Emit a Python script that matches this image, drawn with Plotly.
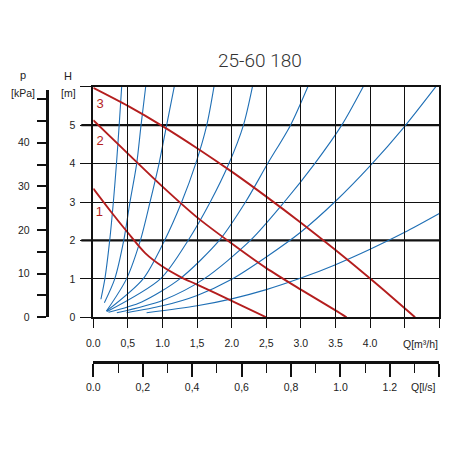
import plotly.graph_objs as go

# === Data ===
# system curves (blue), one list per curve
SYSTEM_Q = [
    [0.11, 0.167, 0.237, 0.29, 0.335, 0.374, 0.41],
    [0.16, 0.31, 0.44, 0.53, 0.627, 0.69, 0.757],
    [0.19, 0.48, 0.68, 0.82, 0.95, 1.06, 1.17],
    [0.19, 0.72, 1.03, 1.277, 1.48, 1.64, 1.744],
    [0.20, 0.97, 1.37, 1.69, 1.96, 2.17, 2.30],
    [0.22, 0.7, 1.25, 1.82, 2.2, 2.52, 2.85, 3.10],
    [0.34, 1.0, 1.6, 2.27, 2.76, 3.2, 3.59, 3.90],
    [0.48, 1.0, 1.5, 2.0, 2.5, 3.0, 3.5, 4.0, 4.5, 4.95],
    [0.77, 1.5, 2.0, 2.5, 3.0, 3.5, 4.0, 4.5, 5.0],
]
SYSTEM_H = [
    [0.47, 1, 2, 3, 4, 5, 6],
    [0.38, 1, 2, 3, 4, 5, 6],
    [0.16, 1, 2, 3, 4, 5, 6],
    [0.16, 1, 2, 3, 4, 5, 6],
    [0.15, 1, 2, 3, 4, 5, 6],
    [0.13, 0.40, 1, 2, 3, 4, 5, 6],
    [0.12, 0.44, 1, 2, 3, 4, 5, 6],
    [0.12, 0.30, 0.57, 0.99, 1.57, 2.22, 3.02, 3.94, 4.97, 6.0],
    [0.12, 0.30, 0.48, 0.72, 1.02, 1.37, 1.77, 2.21, 2.7],
]

# pump curves (red), speeds 1..3
PUMP_NAMES = ["1", "2", "3"]
PUMP_Q = [
    [0, 0.25, 0.5, 0.75, 1.0, 1.25, 1.5, 2.0, 2.5],
    [0, 0.5, 1.0, 1.5, 2.0, 2.5, 3.0, 3.5, 3.66],
    [0, 0.5, 1.0, 1.5, 2.0, 2.5, 3.0, 3.5, 4.0, 4.3, 4.65],
]
PUMP_H = [
    [3.35, 2.76, 2.20, 1.67, 1.32, 1.06, 0.85, 0.43, 0],
    [5.13, 4.26, 3.40, 2.60, 1.92, 1.28, 0.72, 0.18, 0],
    [5.97, 5.5, 4.975, 4.40, 3.79, 3.14, 2.46, 1.75, 1.01, 0.55, 0],
]
PUMP_LABEL_Q = [0.087, 0.097, 0.097]
PUMP_LABEL_H = [2.73, 4.57, 5.52]

# axes
Q_M3H_TICKS = [0, 0.5, 1.0, 1.5, 2.0, 2.5, 3.0, 3.5, 4.0, 4.5, 5.0]
Q_M3H_TEXT = ["0.0", "0,5", "1.0", "1,5", "2.0", "2,5", "3.0", "3.5", "4.0", "", ""]
H_TICKS = [0, 1, 2, 3, 4, 5, 6]
H_TEXT = ["0", "1", "2", "3", "4", "5", ""]
H_BOLD = [2, 5]
P_TICKS = [0, 5, 10, 15, 20, 25, 30, 35, 40, 45, 50]
P_TEXT = ["0", "", "10", "", "20", "", "30", "", "40", "", ""]
Q_LS_TICKS = [0, 0.2, 0.4, 0.6, 0.8, 1.0, 1.2, 1.4]
Q_LS_TEXT = ["0.0", "0,2", "0,4", "0,6", "0,8", "1.0", "1.2", ""]

TITLE = "25-60 180"

# === Style ===
# the page body has an 8px margin, so the figure is 434px and every
# position below is given in window pixels and shifted by that margin
PAGE_OFF = 8
W = H = 434
BLUE = "#1f6fb5"
RED = "#b41e1e"
INK = "#111111"
LABEL_FONT = dict(family="Liberation Sans, Arial", size=10.5, color="#222222")


def px(x):
    return (x - PAGE_OFF) / W


def py(y):
    return 1 - (y - PAGE_OFF) / H


fig = go.Figure()

for qs, hs in zip(SYSTEM_Q, SYSTEM_H):
    fig.add_trace(go.Scatter(
        x=qs, y=hs, mode="lines", line=dict(color=BLUE, width=1.1, shape="spline", smoothing=0.8),
        showlegend=False, hoverinfo="skip"
    ))

for qs, hs in zip(PUMP_Q, PUMP_H):
    fig.add_trace(go.Scatter(
        x=qs, y=hs, mode="lines", line=dict(color=RED, width=1.9, shape="spline", smoothing=0.8),
        showlegend=False, hoverinfo="skip"
    ))

fig.add_trace(go.Scatter(
    x=PUMP_LABEL_Q, y=PUMP_LABEL_H, mode="text", text=PUMP_NAMES,
    textfont=dict(family="Liberation Sans, Arial", size=13, color=RED),
    showlegend=False, hoverinfo="skip"
))

# empty traces so the kPa and l/s axes get drawn
fig.add_trace(go.Scatter(x=[None], y=[None], yaxis="y2", showlegend=False, hoverinfo="skip"))
fig.add_trace(go.Scatter(x=[None], y=[None], xaxis="x2", showlegend=False, hoverinfo="skip"))

x_dom = [px(93.3), px(439.3)]
y_dom = [py(317.3), py(86.7)]

fig.update_layout(
    width=W, height=H,
    margin=dict(l=0, r=0, t=0, b=0),
    paper_bgcolor="white",
    plot_bgcolor="rgba(0,0,0,0)",
    xaxis=dict(
        domain=x_dom, range=[0, 5], tickmode="array", tickvals=Q_M3H_TICKS, ticktext=Q_M3H_TEXT,
        showgrid=True, gridcolor=INK, gridwidth=1.3, zeroline=False,
        showline=True, linecolor=INK, linewidth=1.6, mirror=True,
        ticks="outside", ticklen=9, tickwidth=1.3, tickcolor=INK,
        tickfont=LABEL_FONT, ticklabelstandoff=6, automargin=False,
    ),
    yaxis=dict(
        domain=y_dom, range=[0, 6], tickmode="array", tickvals=H_TICKS, ticktext=H_TEXT,
        showgrid=True, gridcolor=INK, gridwidth=1.3, zeroline=False,
        showline=True, linecolor=INK, linewidth=1.5, mirror=True,
        ticks="outside", ticklen=12, tickwidth=1.3, tickcolor=INK,
        tickfont=LABEL_FONT, ticklabelstandoff=2, automargin=False,
    ),
    yaxis2=dict(
        domain=[py(317.3), py(90)], range=[0, 52.1], anchor="free", position=px(46.7), side="left",
        tickmode="array", tickvals=P_TICKS, ticktext=P_TEXT,
        showgrid=False, zeroline=False, showline=True, linecolor=INK, linewidth=3,
        ticks="outside", ticklen=9, tickwidth=1.5, tickcolor=INK,
        tickfont=LABEL_FONT, ticklabelstandoff=5, automargin=False,
    ),
    xaxis2=dict(
        overlaying="x", anchor="free", position=py(362), side="bottom", range=[0, 1.4],
        tickmode="array", tickvals=Q_LS_TICKS, ticktext=Q_LS_TEXT,
        showgrid=False, zeroline=False, showline=True, linecolor=INK, linewidth=3,
        ticks="outside", ticklen=13, tickwidth=1.6, tickcolor=INK,
        minor=dict(ticks="outside", ticklen=9, tickwidth=1.4, tickcolor=INK, dtick=0.1, tick0=0, showgrid=False),
        tickfont=LABEL_FONT, ticklabelstandoff=1, automargin=False,
    ),
)

# heavier grid lines at H = 2 and 5 (incl. their tick stubs)
for h in H_BOLD:
    fig.add_shape(type="line", xref="paper", yref="y", x0=px(81.3), x1=x_dom[1], y0=h, y1=h,
                  line=dict(color=INK, width=2.2), layer="below")

texts = [
    (TITLE, 260, 60, 19, "Roboto, Liberation Sans", "#333333", 300),
    ("p", 23, 75, 11, "Liberation Sans, Arial", "#222222", 400),
    ("[kPa]", 23, 93, 10.5, "Liberation Sans, Arial", "#222222", 400),
    ("H", 68, 76, 11, "Liberation Sans, Arial", "#222222", 400),
    ("[m]", 68, 93, 10.5, "Liberation Sans, Arial", "#222222", 400),
    ("Q[m³/h]", 420.5, 343.7, 10.5, "Liberation Sans, Arial", "#222222", 400),
    ("Q[l/s]", 423.5, 386.5, 10.5, "Liberation Sans, Arial", "#222222", 400),
]
for txt, x, y, size, family, color, weight in texts:
    fig.add_annotation(text=txt, xref="paper", yref="paper", x=px(x), y=py(y),
                       showarrow=False, xanchor="center", yanchor="middle",
                       font=dict(family=family, size=size, color=color, weight=weight))

fig.write_html("out.html")
